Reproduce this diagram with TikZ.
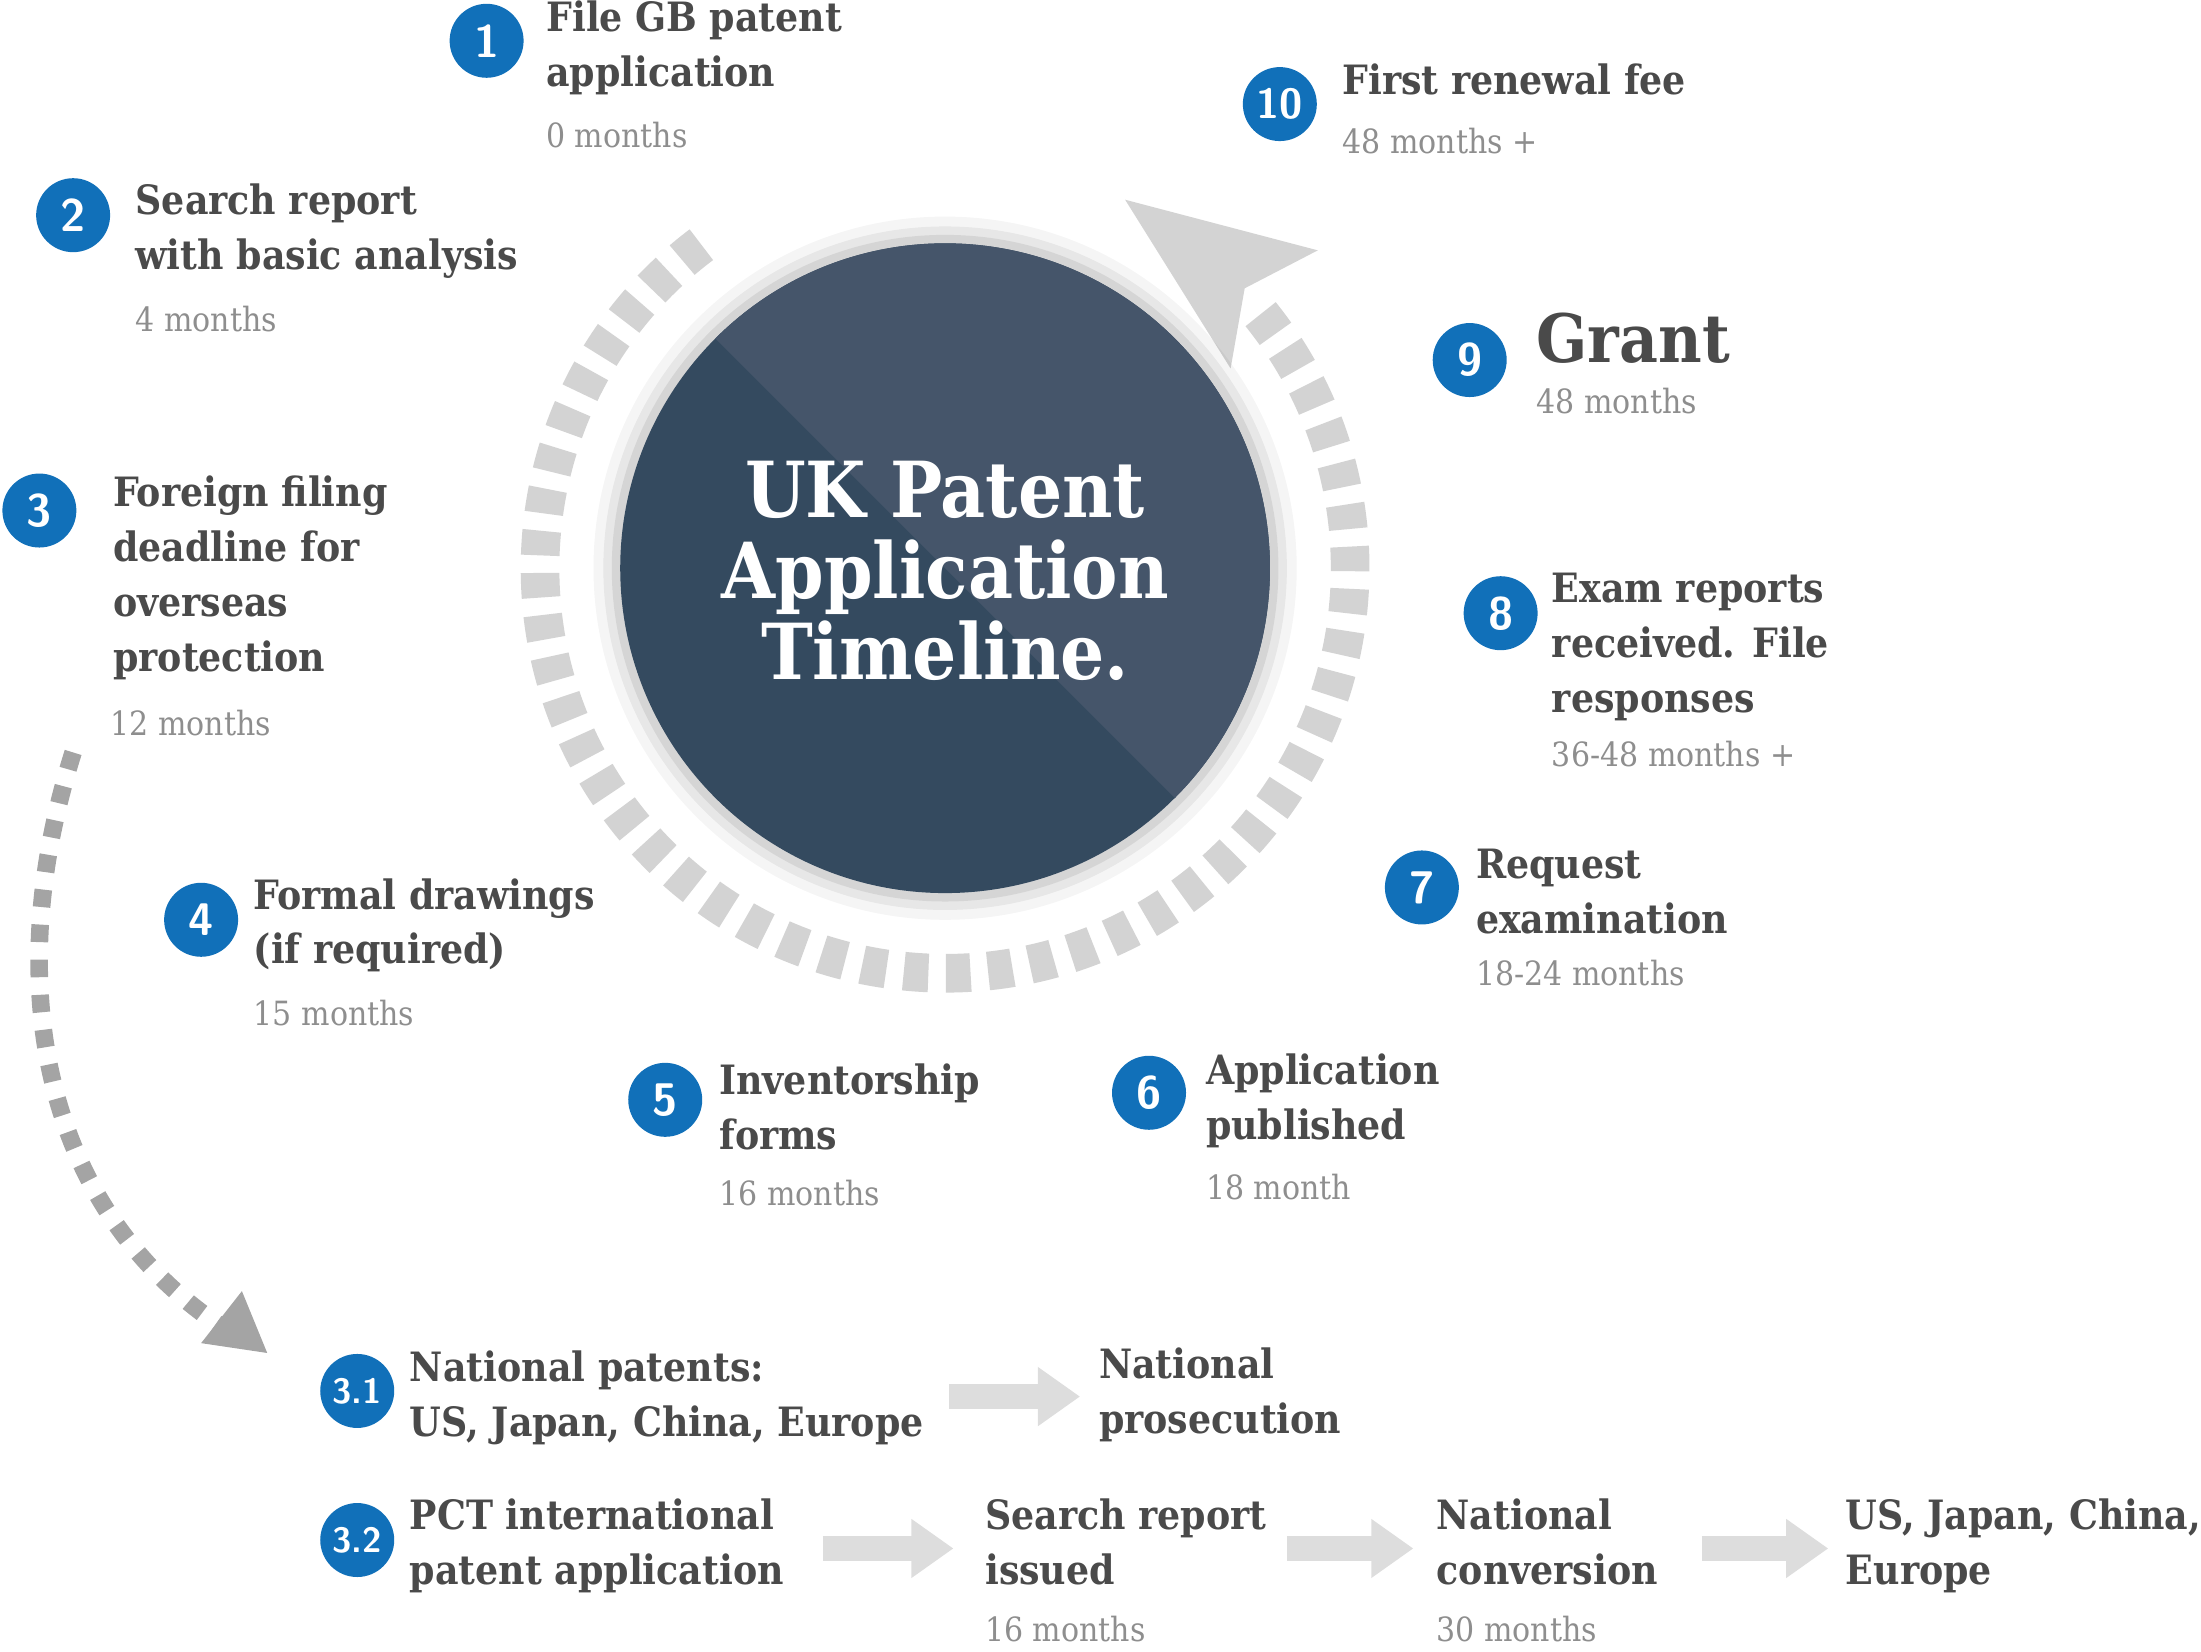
\documentclass[tikz,border=0pt]{standalone}
\usepackage{fontspec}
\setmainfont{DejaVu Serif Condensed}
\usetikzlibrary{arrows.meta,calc}
\definecolor{nblue}{HTML}{1170B9}
\definecolor{htxt}{HTML}{4A4A4A}
\definecolor{stxt}{HTML}{8E8E8E}
\definecolor{cdark}{HTML}{344A5F}
\definecolor{clight}{HTML}{45556A}
\definecolor{ring}{HTML}{D3D3D3}
\definecolor{larr}{HTML}{DDDDDD}
\begin{document}
\begin{tikzpicture}[x=0.014064cm,y=-0.014064cm,
  num/.style={circle,fill=nblue,text=white,minimum size=0.74cm,inner sep=0pt,font=\sffamily\bfseries\fontsize{13}{13}\selectfont},
  numsm/.style={num,font=\sffamily\bfseries\fontsize{10}{10}\selectfont},
  head/.style={anchor=north west,inner sep=0pt,align=left,text=htxt,font=\bfseries\fontsize{11.5}{15.6}\selectfont},
  sub/.style={anchor=base west,inner sep=0pt,text=stxt,font=\fontsize{9.5}{11}\selectfont},
  flow/.style={larr,line width=7pt,-{Triangle[length=12pt,width=16pt]}}]
\useasboundingbox (0,0) rectangle (1565,1174);
% ring
\coordinate (c) at (672,404);
\draw[ring,line width=11pt,dash pattern=on 7pt off 5pt] ($(c)+(233:288)$) arc[start angle=233,end angle=-41,radius=288];
\fill[ring] (800,142) -- (937,178) -- (885,205) -- (875,262) -- cycle;
% shadow + circle
\foreach \r/\o in {250/0.04,243/0.06,237/0.08}{\fill[black,opacity=\o] (c) circle[radius=\r];}
\fill[cdark] (c) circle[radius=231];
\fill[clight] ($(c)+(-135:231)$) arc[start angle=-135,end angle=45,radius=231] -- cycle;
\node[text=white,align=center,font=\bfseries\fontsize{22}{23}\selectfont] (title) at (672,406) {UK Patent\\Application\\Timeline.};
% dotted arrow
\coordinate (d0) at (52,535);
\coordinate (d1) at (160,945);
\draw[stxt!80,line width=5pt,dash pattern=on 5pt off 5pt] (d0) .. controls (0,700) and (30,860) .. (d1);
\fill[stxt!80] (190,962) -- (143,955) -- (172,918) -- cycle;
% items
\node[num] (n1) at (346,29) {1};
\node[head] (h1) at (388,0) {File GB patent\\application};
\node[sub] (s1) at (388,105) {0 months};
\node[num] (n2) at (52,153) {2};
\node[head] (h2) at (96,130) {Search report\\with basic analysis};
\node[sub] (s2) at (96,236) {4 months};
\node[num] (n3) at (28,363) {3};
\node[head] (h3) at (80,338) {Foreign filing\\deadline for\\overseas\\protection};
\node[sub] (s3) at (78,523) {12 months};
\node[num] (n4) at (143,654) {4};
\node[head] (h4) at (180,624) {Formal drawings\\(if required)};
\node[sub] (s4) at (180,729) {15 months};
\node[num] (n5) at (473,782) {5};
\node[head] (h5) at (511,756) {Inventorship\\forms};
\node[sub] (s5) at (511,857) {16 months};
\node[num] (n6) at (817,777) {6};
\node[head] (h6) at (857,749) {Application\\published};
\node[sub] (s6) at (857,853) {18 month};
\node[num] (n7) at (1011,631) {7};
\node[head] (h7) at (1049,603) {Request\\examination};
\node[sub] (s7) at (1049,701) {18-24 months};
\node[num] (n8) at (1067,436) {8};
\node[head] (h8) at (1103,407) {Exam reports\\received. File\\responses};
\node[sub] (s8) at (1103,545) {36-48 months +};
\node[num] (n9) at (1045,256) {9};
\node[anchor=north west,inner sep=0pt,text=htxt,font=\bfseries\fontsize{19}{20}\selectfont] (h9) at (1092,222) {Grant};
\node[sub] (s9) at (1092,294) {48 months};
\node[numsm,font=\sffamily\bfseries\fontsize{12}{12}\selectfont] (n10) at (910,74) {10};
\node[head] (h10) at (954,45) {First renewal fee};
\node[sub] (s10) at (954,109) {48 months +};
% bottom
\node[numsm] (n31) at (254,989) {3.1};
\node[head] (h31) at (291,960) {National patents:\\US, Japan, China, Europe};
\node[head] (h31b) at (781,958) {National\\prosecution};
\draw[flow] (675,993) -- (768,993);
\node[numsm] (n32) at (254,1095) {3.2};
\node[head] (h32) at (291,1065) {PCT international\\patent application};
\node[head] (h32b) at (700,1065) {Search report\\issued};
\node[sub] (s32b) at (700,1167) {16 months};
\node[head] (h32c) at (1021,1065) {National\\conversion};
\node[sub] (s32c) at (1021,1167) {30 months};
\node[head] (h32d) at (1312,1065) {US, Japan, China,\\Europe};
\draw[flow] (585,1101) -- (678,1101);
\draw[flow] (915,1101) -- (1005,1101);
\draw[flow] (1210,1101) -- (1300,1101);
\end{tikzpicture}
\end{document}
